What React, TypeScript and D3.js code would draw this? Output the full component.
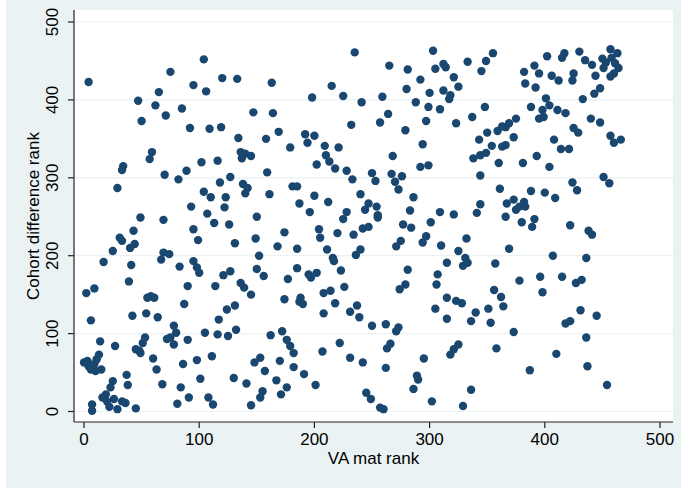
import React from "react";
import * as d3 from "d3";

// [VA mat rank, Cohort difference rank]
const points: [number, number][] = [
  [4,423],[104,452],[75,436],[120,428],[133,427],[163,422],[95,419],[106,411],[65,410],[47,399],[62,393],[85,389],[71,380],[50,373],[147,384],[164,383],[92,364],[109,363],[119,365],[134,351],[158,350],[59,333],[57,324],[34,315],[33,310],[136,333],[140,331],[145,328],[137,325],[102,320],[116,322],[159,307],[70,304],[89,309],[82,298],[127,301],[118,294],[138,292],[142,287],[140,280],[29,287],[104,282],[110,275],[123,275],[161,279],[93,263],[122,262],[107,254],[49,249],[150,250],
  [235,461],[303,463],[265,444],[281,439],[305,440],[312,446],[314,442],[333,449],[292,426],[321,429],[325,417],[215,418],[280,414],[300,409],[312,412],[318,406],[317,401],[198,403],[225,405],[241,397],[259,404],[288,397],[299,391],[309,388],[264,382],[257,371],[297,373],[323,370],[337,378],[232,368],[279,361],[169,359],[192,356],[200,354],[194,345],[294,343],[179,339],[209,341],[221,339],[210,329],[213,321],[218,312],[268,328],[202,317],[292,314],[299,316],[338,325],[228,309],[233,298],[250,306],[253,296],[267,305],[270,295],[276,302],[273,285],[181,289],[185,289],[200,277],[240,279],[286,275],[187,267],[196,256],[212,269],[247,267],[254,263],[244,259],[255,252],[228,256],[283,258],[309,256],[321,253],
  [355,460],[349,450],[345,437],[402,456],[417,460],[415,454],[430,462],[391,444],[395,434],[382,436],[406,431],[412,425],[425,434],[424,425],[435,451],[441,445],[444,431],[450,453],[457,465],[463,460],[461,447],[464,441],[460,434],[457,430],[451,441],[458,454],[453,448],[383,421],[392,416],[448,415],[443,408],[433,401],[401,402],[404,393],[398,387],[411,387],[418,383],[395,376],[399,378],[388,391],[348,391],[375,376],[369,370],[363,366],[359,360],[366,365],[440,376],[448,371],[425,364],[429,358],[457,354],[460,345],[466,349],[350,358],[343,349],[373,352],[366,342],[363,340],[354,341],[349,332],[344,329],[408,349],[414,337],[421,337],[393,328],[360,319],[381,319],[404,314],[344,303],[451,301],[456,293],[424,294],[428,284],[361,286],[388,283],[400,281],[409,274],[367,267],[373,272],[378,263],[382,269],[375,259],[383,263],[344,266],[341,255],
  [69,246],[43,232],[31,223],[33,219],[44,215],[40,210],[25,206],[17,192],[41,188],[39,167],[2,152],[9,158],[58,148],[61,146],[55,146],[6,117],[42,123],[54,126],[64,121],[14,90],[27,84],[53,95],[51,88],[48,78],[45,80],[49,75],[60,68],[63,54],[0,63],[4,58],[9,61],[11,67],[13,73],[6,54],[10,52],[15,54],[3,65],[37,47],[38,34],[25,39],[23,31],[19,22],[16,18],[20,13],[26,16],[33,13],[36,11],[29,3],[45,4],[22,6],[7,9],[7,1],[68,35],[95,234],[99,220],[113,242],[126,240],[131,216],[149,222],[69,204],[74,202],[67,195],[83,186],[95,193],[98,185],[100,178],[152,200],[150,183],[156,174],[121,175],[127,180],[90,161],[114,161],[136,165],[139,159],[145,150],[87,138],[124,131],[131,136],[117,118],[78,110],[75,95],[80,101],[78,86],[72,93],[90,92],[105,101],[116,99],[125,97],[132,105],[162,98],[86,61],[98,66],[111,71],[101,42],[84,31],[91,18],[81,10],[108,18],[112,9],[130,43],[141,36],[153,69],[148,63],[157,52],[155,26],[153,18],[145,8],
  [225,247],[255,249],[174,230],[168,212],[185,209],[204,234],[205,223],[220,229],[234,227],[242,235],[247,237],[277,240],[284,236],[301,243],[297,225],[294,217],[275,219],[271,212],[310,213],[332,222],[211,208],[216,197],[217,193],[240,208],[236,201],[325,206],[331,197],[333,191],[329,187],[315,191],[185,184],[177,170],[195,176],[197,172],[202,178],[223,181],[281,182],[307,176],[306,163],[279,163],[274,157],[226,160],[208,152],[214,155],[188,146],[190,138],[187,141],[174,144],[218,139],[315,146],[323,142],[328,139],[237,136],[231,128],[239,121],[208,126],[305,132],[315,119],[336,116],[250,110],[262,112],[271,103],[273,108],[172,103],[176,92],[179,84],[182,75],[222,88],[207,77],[266,87],[263,81],[325,86],[321,80],[318,73],[170,65],[182,57],[191,48],[231,69],[242,63],[262,56],[295,68],[289,46],[290,41],[286,29],[167,40],[176,31],[171,22],[201,34],[245,24],[249,16],[257,5],[260,3],[302,13],[329,7],[336,28],
  [366,250],[380,243],[391,247],[389,237],[422,239],[438,232],[441,227],[369,209],[407,200],[436,197],[357,190],[378,168],[396,173],[415,173],[427,165],[432,169],[356,156],[362,147],[398,153],[351,132],[364,135],[340,127],[353,114],[431,130],[445,123],[418,113],[422,116],[373,102],[436,95],[358,81],[410,74],[437,58],[387,53],[454,34],
];

const xTicks = [0, 100, 200, 300, 400, 500];
const yTicks = [0, 100, 200, 300, 400, 500];
const xTitle = "VA mat rank";
const yTitle = "Cohort difference rank";

const W = 681;
const H = 489;
const plot = { left: 74, right: 673, top: 10, bottom: 422 };
const font = "'Liberation Sans', Arial, sans-serif";
const bg = "#eaf2f3";
const markerColor = "#1a476f";

export default function App() {
  const x = d3.scaleLinear().domain([0, 500]).range([84, 660]);
  const y = d3.scaleLinear().domain([0, 500]).range([411.5, 22]);
  const midX = (plot.left + plot.right) / 2;
  const midY = (plot.top + plot.bottom) / 2;

  return (
    <svg
      width={W}
      height={H}
      style={{ position: "absolute", left: 0, top: 0 }}
      fontFamily={font}
    >
      <rect x={0} y={0} width={W} height={H} fill="#fff" />
      <rect x={6} y={0} width={W - 6} height={488} fill={bg} />
      <rect
        x={plot.left}
        y={plot.top}
        width={plot.right - plot.left}
        height={plot.bottom - plot.top}
        fill="#fff"
      />

      {/* gridlines */}
      {yTicks.map((t) => (
        <line
          key={"g" + t}
          x1={plot.left}
          x2={plot.right}
          y1={y(t)}
          y2={y(t)}
          stroke={bg}
          strokeWidth={1.2}
        />
      ))}

      {/* points */}
      {points.map((d, i) => (
        <circle key={i} cx={x(d[0])} cy={y(d[1])} r={4.2} fill={markerColor} />
      ))}

      {/* axes */}
      <line x1={plot.left} x2={plot.left} y1={plot.top} y2={plot.bottom} stroke="#222" strokeWidth={1.2} />
      <line x1={plot.left} x2={plot.right} y1={plot.bottom} y2={plot.bottom} stroke="#222" strokeWidth={1.2} />

      {yTicks.map((t) => (
        <g key={"y" + t}>
          <line x1={plot.left - 6} x2={plot.left} y1={y(t)} y2={y(t)} stroke="#222" strokeWidth={1.2} />
          <text
            transform={`translate(58,${y(t)}) rotate(-90)`}
            textAnchor="middle"
            fontSize={17}
            fill="#000"
          >
            {t}
          </text>
        </g>
      ))}

      {xTicks.map((t) => (
        <g key={"x" + t}>
          <line x1={x(t)} x2={x(t)} y1={plot.bottom} y2={plot.bottom + 6} stroke="#222" strokeWidth={1.2} />
          <text x={x(t)} y={445} textAnchor="middle" fontSize={17} fill="#000">
            {t}
          </text>
        </g>
      ))}

      <text x={midX} y={464} textAnchor="middle" fontSize={17} fill="#000">
        {xTitle}
      </text>
      <text
        transform={`translate(39,${midY}) rotate(-90)`}
        textAnchor="middle"
        fontSize={17}
        fill="#000"
      >
        {yTitle}
      </text>
    </svg>
  );
}
